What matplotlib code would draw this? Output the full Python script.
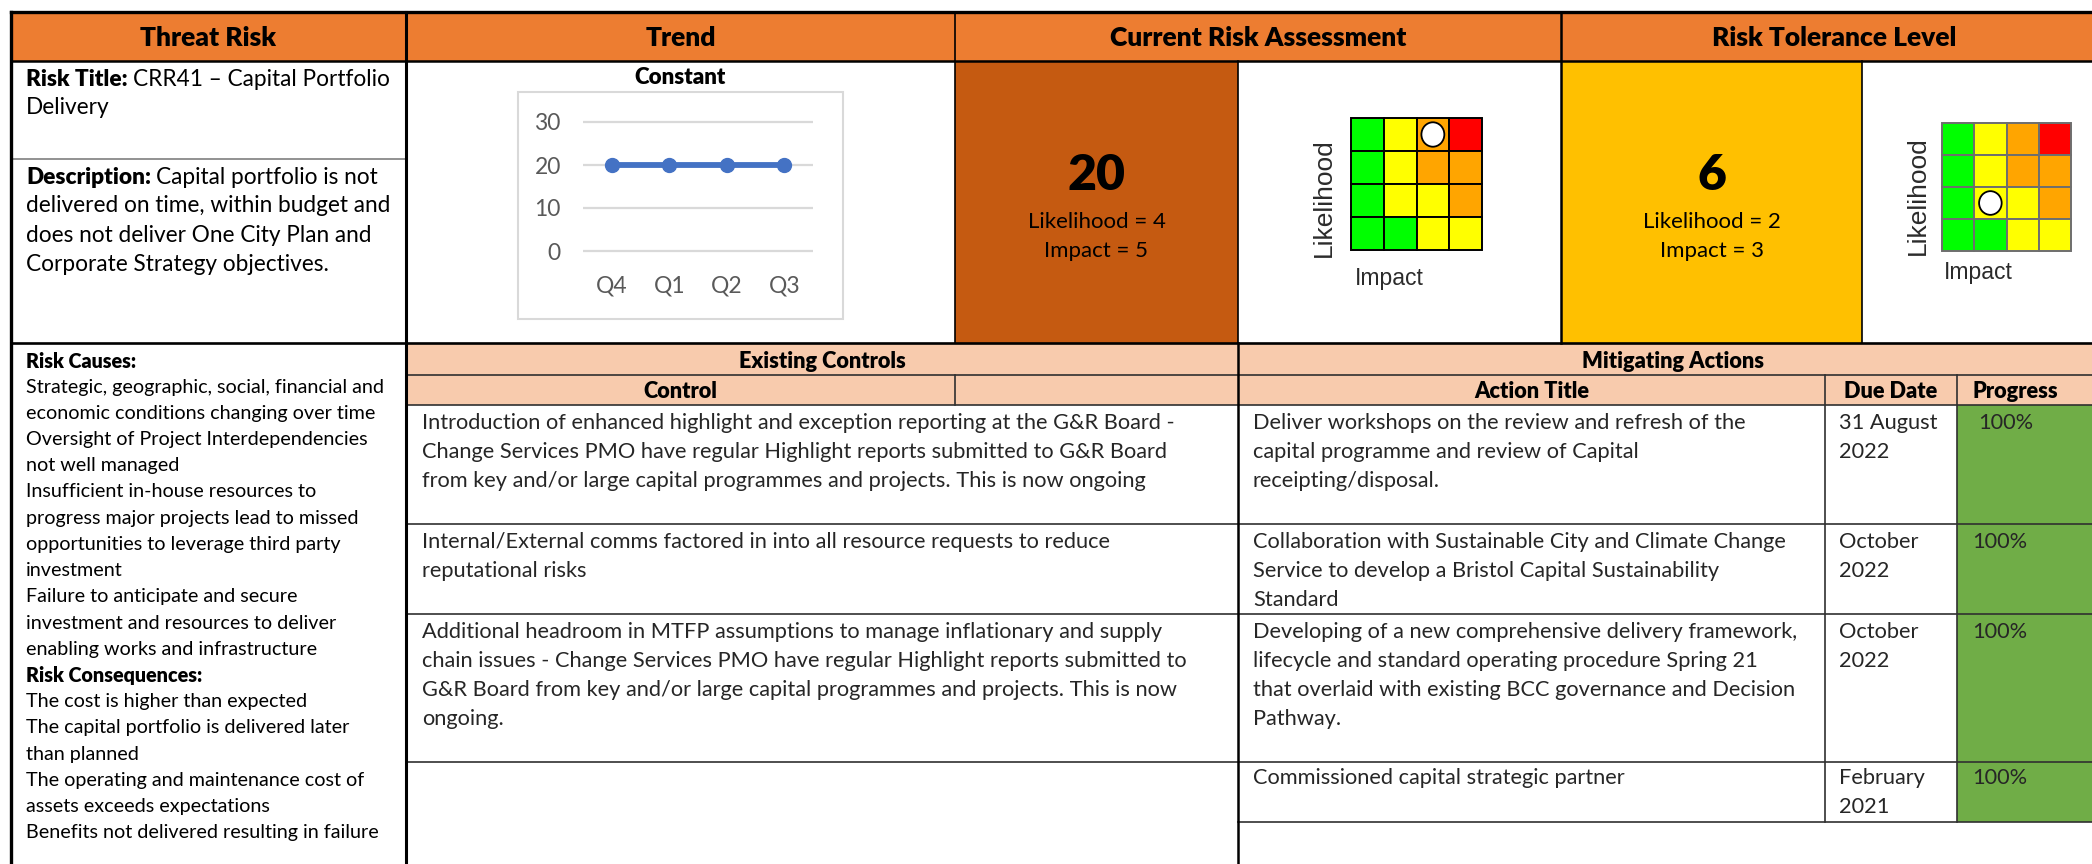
import matplotlib
matplotlib.use('Agg')
import matplotlib.pyplot as plt
from matplotlib.patches import Rectangle, Ellipse

# ---- data ----
headers = ['Threat Risk', 'Trend', 'Current Risk Assessment', 'Risk Tolerance Level']

trend_title = 'Constant'
trend_quarters = ['Q4', 'Q1', 'Q2', 'Q3']
trend_scores = [20, 20, 20, 20]
trend_ticks = [0, 10, 20, 30]

current_score, current_likelihood, current_impact = 20, 4, 5
tolerance_score, tolerance_likelihood, tolerance_impact = 6, 2, 3

# heat map, top row first (G green, Y yellow, O orange, R red)
matrix_cells = [['G', 'Y', 'O', 'R'],
                ['G', 'Y', 'O', 'O'],
                ['G', 'Y', 'Y', 'O'],
                ['G', 'G', 'Y', 'Y']]
current_marker = (0, 2)     # (row from top, column)
tolerance_marker = (2, 1)

risk_title = 'CRR41 – Capital Portfolio'
risk_title_lines = ['Delivery']
description_lines = ['Capital portfolio is not',
                     'delivered on time, within budget and',
                     'does not deliver One City Plan and',
                     'Corporate Strategy objectives.']
cause_lines = ['Strategic, geographic, social, financial and',
               'economic conditions changing over time',
               'Oversight of Project Interdependencies',
               'not well managed',
               'Insufficient in-house resources to',
               'progress major projects lead to missed',
               'opportunities to leverage third party',
               'investment',
               'Failure to anticipate and secure',
               'investment and resources to deliver',
               'enabling works and infrastructure']
consequence_lines = ['The cost is higher than expected',
                     'The capital portfolio is delivered later',
                     'than planned',
                     'The operating and maintenance cost of',
                     'assets exceeds expectations',
                     'Benefits not delivered resulting in failure']

controls = [['Introduction of enhanced highlight and exception reporting at the G&R Board -',
             'Change Services PMO have regular Highlight reports submitted to G&R Board',
             'from key and/or large capital programmes and projects. This is now ongoing'],
            ['Internal/External comms factored in into all resource requests to reduce',
             'reputational risks'],
            ['Additional headroom in MTFP assumptions to manage inflationary and supply',
             'chain issues - Change Services PMO have regular Highlight reports submitted to',
             'G&R Board from key and/or large capital programmes and projects. This is now',
             'ongoing.'],
            []]

actions = [['Deliver workshops on the review and refresh of the',
            'capital programme and review of Capital',
            'receipting/disposal.'],
           ['Collaboration with Sustainable City and Climate Change',
            'Service to develop a Bristol Capital Sustainability',
            'Standard'],
           ['Developing of a new comprehensive delivery framework,',
            'lifecycle and standard operating procedure Spring 21',
            'that overlaid with existing BCC governance and Decision',
            'Pathway.'],
           ['Commissioned capital strategic partner']]
due_dates = [['31 August', '2022'], ['October', '2022'], ['October', '2022'], ['February', '2021']]
progress = ['100%', '100%', '100%', '100%']

# ---- layout (pixels) ----
W, H = 2092, 864
X_L, X_TR, X_TREND, X_CUR, X_TOL, X_TOLBOX, X_R = 11, 406, 955, 1238, 1561, 1862, 2108
X_DUE, X_PROG = 1825, 1957
Y_TOP, Y_HDR, Y_DESC, Y_MID, Y_SUB1, Y_SUB2 = 12, 61, 159, 343, 375, 405
ROW_LINES = [405, 524, 614, 762, 822]

ORANGE, PEACH = '#ED7D31', '#F8CBAD'
CUR_BOX, TOL_BOX, GREEN = '#C55A11', '#FFC000', '#70AD47'
CELL_COL = {'G': '#00FF00', 'Y': '#FFFF00', 'O': '#FFA500', 'R': '#FF0000'}
TXT = '#262626'
BOLD = 800
BODY = 15.7
plt.rcParams['font.family'] = ['Lato', 'DejaVu Sans']

fig = plt.figure(figsize=(W / 100, H / 100), dpi=100)
ax = fig.add_axes([0, 0, 1, 1])
ax.set_xlim(0, W)
ax.set_ylim(H, 0)
ax.axis('off')
renderer = fig.canvas.get_renderer()


def box(x0, y0, x1, y1, color):
    ax.add_patch(Rectangle((x0, y0), x1 - x0, y1 - y0, facecolor=color, edgecolor='none', zorder=1))


def hline(y, x0, x1, lw=1.2, color='#303030'):
    ax.plot([x0, x1], [y, y], color=color, lw=lw, zorder=3, solid_capstyle='projecting')


def vline(x, y0, y1, lw=1.2, color='#303030'):
    ax.plot([x, x], [y0, y1], color=color, lw=lw, zorder=3, solid_capstyle='projecting')


def mixed(x, y, bold, rest, size, color='black'):
    t = ax.text(x, y, bold, fontsize=size, fontweight=BOLD, va='center', ha='left', color=color)
    w = t.get_window_extent(renderer).width
    ax.text(x + w + size * 0.3, y, rest, fontsize=size, va='center', ha='left', color=color)


# fills
box(X_L, Y_TOP, W, Y_HDR, ORANGE)
box(X_TREND, Y_HDR, X_CUR, Y_MID, CUR_BOX)
box(X_TOL, Y_HDR, X_TOLBOX, Y_MID, TOL_BOX)
box(X_TR, Y_MID, W, Y_SUB2, PEACH)
box(X_PROG, ROW_LINES[0], W, ROW_LINES[-1], GREEN)

# header texts
hdr_edges = [X_L, X_TR, X_TREND, X_TOL, X_R]
for i, h in enumerate(headers):
    ax.text((hdr_edges[i] + hdr_edges[i + 1]) / 2, (Y_TOP + Y_HDR) / 2 + 1, h,
            fontsize=19, fontweight=BOLD, ha='center', va='center', color='black')

# grid lines
hline(Y_TOP, X_L, W, lw=2.4, color='black')
hline(Y_HDR, X_L, W, lw=1.8, color='black')
hline(Y_DESC, X_L, X_TR, lw=1.2, color='#7f7f7f')
hline(Y_MID, X_L, W, lw=1.9, color='black')
hline(Y_SUB1, X_TR, W)
hline(Y_SUB2, X_TR, W)
for y in ROW_LINES[1:-1]:
    hline(y, X_TR, W)
hline(ROW_LINES[-1], X_CUR, W)
vline(X_L, Y_TOP, H, lw=2.4, color='black')
vline(X_TR, Y_TOP, H, lw=2.2, color='black')
vline(X_TREND, Y_TOP, Y_MID, lw=1.2, color='black')
vline(X_TREND, Y_SUB1, Y_SUB2)
vline(X_CUR, Y_HDR, Y_MID, lw=1.2, color='black')
vline(X_CUR, Y_MID, H, lw=1.8, color='black')
vline(X_TOL, Y_TOP, Y_MID, lw=1.8, color='black')
vline(X_TOLBOX, Y_HDR, Y_MID, lw=1.2, color='black')
vline(X_DUE, Y_SUB1, ROW_LINES[-1])
vline(X_PROG, Y_SUB1, ROW_LINES[-1])

# threat risk column
TOP_SIZE = 16.3
mixed(26, 79, 'Risk Title:', risk_title, TOP_SIZE)
for i, s in enumerate(risk_title_lines):
    ax.text(26, 108 + 29 * i, s, fontsize=TOP_SIZE, va='center', color='black')
mixed(26, 177, 'Description:', description_lines[0], TOP_SIZE)
for i, s in enumerate(description_lines[1:]):
    ax.text(26, 206 + 29.3 * i, s, fontsize=TOP_SIZE, va='center', color='black')

LOW_SIZE = 14.2
step = 26.2
y = 361
ax.text(26, y, 'Risk Causes:', fontsize=LOW_SIZE, fontweight=BOLD, va='center')
for s in cause_lines:
    y += step
    ax.text(26, y, s, fontsize=LOW_SIZE, va='center')
y += step
ax.text(26, y, 'Risk Consequences:', fontsize=LOW_SIZE, fontweight=BOLD, va='center')
for s in consequence_lines:
    y += step
    ax.text(26, y, s, fontsize=LOW_SIZE, va='center')

# trend chart
ax.add_patch(Rectangle((518, 92), 843 - 518, 319 - 92, facecolor='white',
                       edgecolor='#d9d9d9', lw=1.5, zorder=2))
ax.text(680, 78, trend_title, fontsize=16, fontweight=BOLD, ha='center', va='center')
px_unit = (251 - 122) / 30
pad = 6 / px_unit
tax = fig.add_axes([583 / W, 1 - 257 / H, (813 - 583) / W, (257 - 116) / H])
tax.set_xlim(-0.5, len(trend_quarters) - 0.5)
tax.set_ylim(trend_ticks[0] - pad, trend_ticks[-1] + pad)
for t in trend_ticks:
    tax.axhline(t, color='#d9d9d9', lw=1.6, zorder=1)
tax.plot(range(len(trend_quarters)), trend_scores, color='#4472C4', lw=4.2,
         marker='o', markersize=10, zorder=3)
tax.set_yticks(trend_ticks)
tax.set_xticks(range(len(trend_quarters)))
tax.set_xticklabels(trend_quarters)
tax.tick_params(length=0, labelsize=16.5, labelcolor='#595959')
tax.tick_params(axis='y', pad=16)
tax.tick_params(axis='x', pad=13)
for sp in tax.spines.values():
    sp.set_visible(False)
tax.patch.set_alpha(0)


# score boxes
def score_box(xc, score, lik, imp):
    ax.text(xc, 175, str(score), fontsize=36, fontweight=BOLD, ha='center', va='center', color='black')
    ax.text(xc, 222, f'Likelihood = {lik}', fontsize=16, ha='center', va='center', color='black')
    ax.text(xc, 251, f'Impact = {imp}', fontsize=16, ha='center', va='center', color='black')


score_box((X_TREND + X_CUR) / 2, current_score, current_likelihood, current_impact)
score_box((X_TOL + X_TOLBOX) / 2, tolerance_score, tolerance_likelihood, tolerance_impact)


def heat_matrix(x0, y0, x1, y1, marker, edge, lik_xy, imp_xy):
    n = len(matrix_cells)
    cw, ch = (x1 - x0) / n, (y1 - y0) / n
    for r, row in enumerate(matrix_cells):
        for c, code in enumerate(row):
            ax.add_patch(Rectangle((x0 + c * cw, y0 + r * ch), cw, ch, facecolor=CELL_COL[code],
                                   edgecolor=edge, lw=1.4, zorder=2))
    r, c = marker
    ax.add_patch(Ellipse((x0 + (c + 0.5) * cw, y0 + (r + 0.5) * ch), cw * 0.7, ch * 0.74,
                         facecolor='white', edgecolor='black', lw=1.3, zorder=4))
    ax.text(*lik_xy, 'Likelihood', rotation=90, fontsize=19, ha='center', va='center',
            family='Liberation Sans', color='#2b2b2b')
    ax.text(*imp_xy, 'Impact', fontsize=16.5, ha='center', va='center',
            family='Liberation Sans', color='#2b2b2b')


heat_matrix(1351, 118, 1482, 250, current_marker, 'black', (1324, 198), (1389, 278))
heat_matrix(1942, 123, 2071, 251, tolerance_marker, '#6e6e6e', (1918, 196), (1978, 272))

# existing controls / mitigating actions headers
ax.text((X_TR + X_CUR) / 2, 361, 'Existing Controls', fontsize=BODY, fontweight=BOLD, ha='center', va='center')
ax.text((X_TR + X_TREND) / 2, 391, 'Control', fontsize=BODY, fontweight=BOLD, ha='center', va='center')
ax.text((X_CUR + X_R) / 2, 361, 'Mitigating Actions', fontsize=BODY, fontweight=BOLD, ha='center', va='center')
ax.text((X_CUR + X_DUE) / 2, 391, 'Action Title', fontsize=BODY, fontweight=BOLD, ha='center', va='center')
ax.text((X_DUE + X_PROG) / 2, 391, 'Due Date', fontsize=BODY, fontweight=BOLD, ha='center', va='center')
ax.text(X_PROG + 15, 391, 'Progress', fontsize=BODY, fontweight=BOLD, ha='left', va='center')

LINE = 29
for i, top in enumerate(ROW_LINES[:-1]):
    first = top + (16 if i == 3 else 18)
    for j, s in enumerate(controls[i]):
        ax.text(422, first + j * LINE, s, fontsize=BODY, va='center', color=TXT)
    for j, s in enumerate(actions[i]):
        ax.text(1253, first + j * LINE, s, fontsize=BODY, va='center', color=TXT)
    for j, s in enumerate(due_dates[i]):
        ax.text(1839, first + j * LINE, s, fontsize=BODY, va='center', color=TXT)
    ax.text(X_PROG + (21 if i == 0 else 15), first, progress[i], fontsize=BODY, va='center', color=TXT)

fig.savefig('out.png', dpi=100)
